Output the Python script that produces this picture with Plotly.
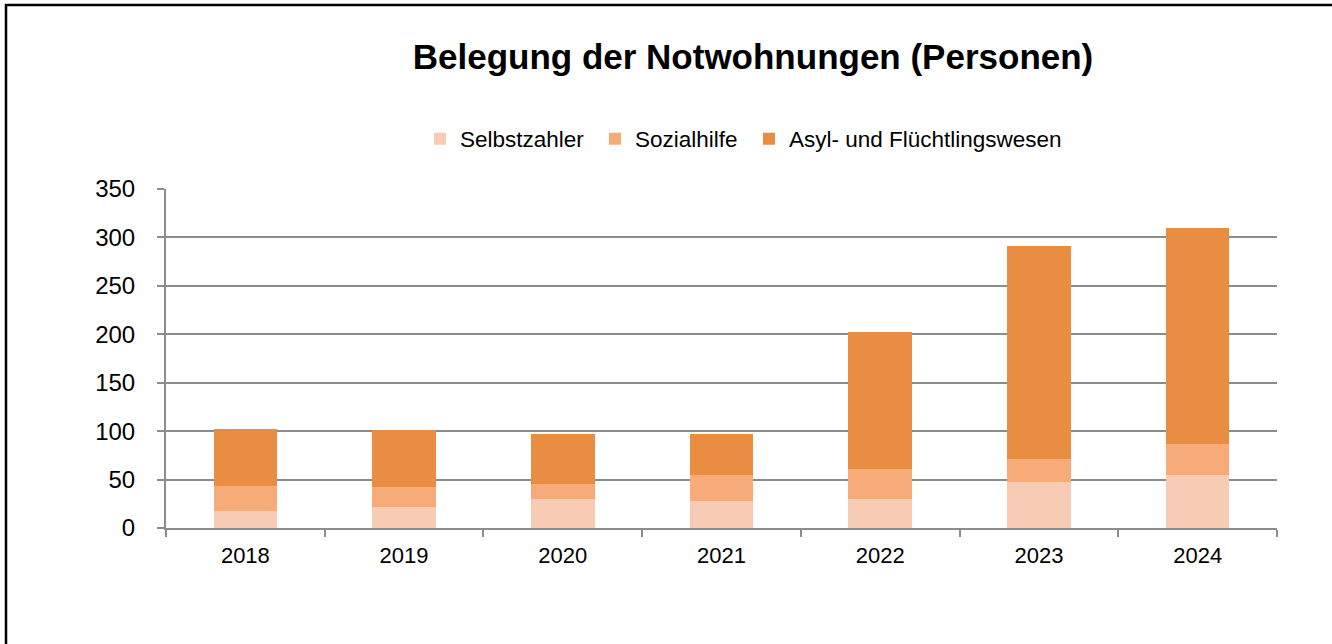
import plotly.graph_objects as go

years = ["2018", "2019", "2020", "2021", "2022", "2023", "2024"]
selbstzahler = [18, 22, 30, 28, 30, 48, 55]
sozialhilfe = [25, 20, 15, 27, 31, 23, 32]
asyl = [59, 59, 52, 42, 141, 220, 223]

series_names = ["Selbstzahler", "Sozialhilfe", "Asyl- und Flüchtlingswesen"]
series_colors = ["#F8CBB4", "#F7AB78", "#E88D42"]
y_ticks = [0, 50, 100, 150, 200, 250, 300, 350]

W, H = 1332, 644
L, R, T, B = 166, 55, 189, 116
pw, ph = W - L - R, H - T - B

def px_x(x):
    return (x - L) / pw

def px_y(y):
    return (H - B - y) / ph

FONT = "Liberation Sans, Arial, sans-serif"
GRID = "#8C8C8C"

fig = go.Figure()
legend_ids = ["legend", "legend2", "legend3"]
for name, vals, col, lg in zip(series_names, [selbstzahler, sozialhilfe, asyl], series_colors, legend_ids):
    fig.add_trace(go.Bar(x=years, y=vals, name=name, marker=dict(color=col, line=dict(width=0)),
                         legend=lg, showlegend=True))

# one legend per series so each entry sits at its own place in the row
legend_text_x = [462, 637, 791]
legend_common = dict(orientation="h", yanchor="middle", xanchor="left", bgcolor="rgba(0,0,0,0)",
                     font=dict(family=FONT, size=22.5, color="#000000"), borderwidth=0,
                     visible=True)
legends = {}
for lg, tx in zip(legend_ids, legend_text_x):
    legends[lg] = dict(legend_common, x=px_x(tx - 2 - 40), y=px_y(139))

fig.update_layout(
    width=W, height=H,
    margin=dict(l=L, r=R, t=T, b=B, autoexpand=False),
    paper_bgcolor="white", plot_bgcolor="white",
    barmode="stack", bargap=0.6, showlegend=True,
    font=dict(family=FONT, size=22, color="#000000"),
    title=dict(text="<b>Belegung der Notwohnungen (Personen)</b>",
               font=dict(family=FONT, size=35, color="#000000"),
               xref="container", yref="container", x=753 / W, y=1 - 57 / H,
               xanchor="center", yanchor="middle"),
    xaxis=dict(type="category", tickson="boundaries", ticks="outside", ticklen=7, tickwidth=2,
               tickcolor=GRID, showline=True, linecolor=GRID, linewidth=2, showgrid=False,
               tickfont=dict(family=FONT, size=22, color="#000000"), ticklabelstandoff=7),
    yaxis=dict(range=[0, 350], tickvals=y_ticks, ticks="outside", ticklen=7, tickwidth=2,
               tickcolor=GRID, showline=True, linecolor=GRID, linewidth=2,
               showgrid=True, gridcolor=GRID, gridwidth=2, zeroline=False,
               tickfont=dict(family=FONT, size=24, color="#000000"), ticklabelstandoff=17),
    **legends,
)

# outer frame of the chart
fig.add_shape(type="rect", xref="paper", yref="paper",
              x0=px_x(6), x1=px_x(W + 20), y0=px_y(H + 20), y1=px_y(5),
              line=dict(color="#000000", width=2.5), fillcolor="rgba(0,0,0,0)", layer="below")

fig.write_html("out.html")
